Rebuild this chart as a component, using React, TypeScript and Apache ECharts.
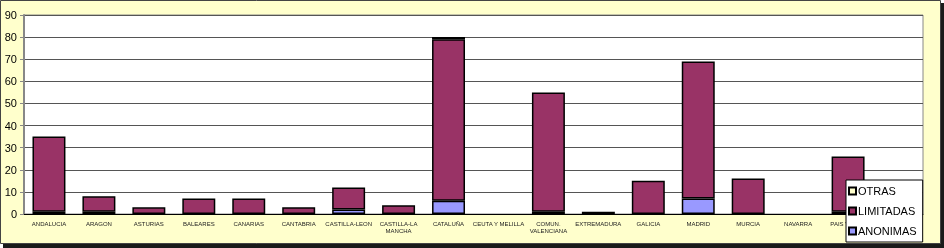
import React, { useEffect, useRef } from "react";
import * as echarts from "echarts";

const categories = [
  "ANDALUCIA", "ARAGON", "ASTURIAS", "BALEARES", "CANARIAS", "CANTABRIA",
  "CASTILLA-LEON", "CASTILLA-LA\nMANCHA", "CATALUÑA", "CEUTA Y MELILLA",
  "COMUN.\nVALENCIANA", "EXTREMADURA", "GALICIA", "MADRID", "MURCIA",
  "NAVARRA", "PAIS VASCO", "LA RIOJA",
];
const anonimas = [1, 1, 0, 0, 0, 0, 2, 0, 6, 0, 1, 0, 0, 7, 0, 0, 1, 0];
const limitadas = [34, 7, 3, 7, 7, 3, 10, 4, 73, 0, 54, 1, 15, 62, 16, 0, 25, 2];
const otras = [0, 0, 0, 0, 0, 0, 0, 0, 1, 0, 0, 0, 0, 0, 0, 0, 0, 0];
const yTicks = { min: 0, max: 90, interval: 10 };

const nz = (arr: number[]) => arr.map((v) => (v === 0 ? "-" : v));

export default function App() {
  const ref = useRef<HTMLDivElement>(null);
  useEffect(() => {
    const chart = echarts.init(ref.current!, null, { renderer: "svg" });
    const font = "'Liberation Sans', Arial, sans-serif";
    const barStyle = (color: string) => ({
      color,
      borderColor: "#000",
      borderWidth: 1.5,
    });
    chart.setOption({
      animation: false,
      textStyle: { fontFamily: font },
      graphic: [
        { type: "rect", shape: { x: 3, y: 3, width: 941, height: 245 }, style: { fill: "#1a1a1a" }, z: -10 },
        { type: "rect", shape: { x: 0.5, y: 0.5, width: 940, height: 243 }, style: { fill: "#FFFFCC", stroke: "#444", lineWidth: 1 }, z: -9 },
      ],
      grid: {
        left: 24, right: 21, top: 15, bottom: 34,
        show: true, backgroundColor: "#fff", borderColor: "#888", borderWidth: 1,
        containLabel: false,
      },
      legend: {
        orient: "vertical",
        left: 846, top: 180,
        data: ["OTRAS", "LIMITADAS", "ANONIMAS"],
        backgroundColor: "#fff",
        borderColor: "#000",
        borderWidth: 1,
        padding: [5, 6, 5, 2],
        itemWidth: 7, itemHeight: 7, itemGap: 8,
        icon: "rect",
        textStyle: { fontSize: 11, lineHeight: 12, color: "#000", fontFamily: font, padding: [0, 0, 0, -3] },
        z: 10,
      },
      xAxis: {
        type: "category",
        data: categories,
        axisLine: { lineStyle: { color: "#000", width: 1 } },
        axisTick: { show: false },
        axisLabel: { interval: 0, fontSize: 6, color: "#222", lineHeight: 7, margin: 6, fontFamily: font },
      },
      yAxis: {
        type: "value",
        ...yTicks,
        axisLine: { show: true, lineStyle: { color: "#888", width: 2 } },
        axisTick: { show: true, length: 4, lineStyle: { color: "#888" } },
        axisLabel: { fontSize: 11, color: "#000", margin: 7, fontFamily: font },
        splitLine: { lineStyle: { color: "#555", width: 1 } },
      },
      series: [
        { name: "ANONIMAS", type: "bar", stack: "t", data: nz(anonimas), barWidth: "66%", itemStyle: barStyle("#9999FF") },
        { name: "LIMITADAS", type: "bar", stack: "t", data: nz(limitadas), barWidth: "66%", itemStyle: barStyle("#993366") },
        { name: "OTRAS", type: "bar", stack: "t", data: nz(otras), barWidth: "66%", itemStyle: barStyle("#FFFFCC") },
      ],
    });
    return () => chart.dispose();
  }, []);
  return <div ref={ref} style={{ position: "fixed", left: 0, top: 0, width: 944, height: 248 }} />;
}
